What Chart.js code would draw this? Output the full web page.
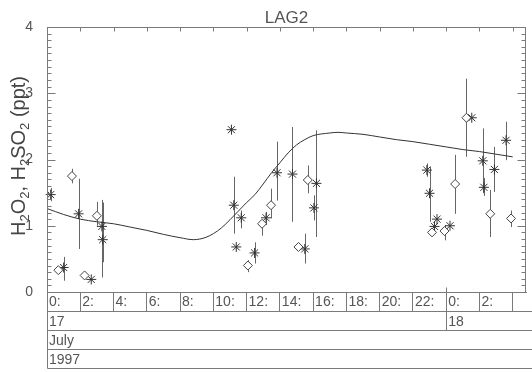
<!DOCTYPE html>
<html>
<head>
<meta charset="utf-8">
<script src="https://cdn.jsdelivr.net/npm/chart.js@4.4.1/dist/chart.umd.min.js"></script>
<style>
    html, body { margin: 0; padding: 0; background: #fff; }
    #wrap { width: 532px; height: 372px; }
</style>
</head>
<body>
<div id="wrap"><canvas id="lag2Chart" width="532" height="372"></canvas></div>
<script>
// Time axis: hours since 00:00, 17 July 1997
const starHours  = [0.22, 1.0, 1.9, 2.66, 3.3, 3.35, 11.09, 11.23, 11.38, 11.68, 12.48, 13.17, 13.83, 14.76,
                    15.5, 16.05, 16.2, 22.84, 23.0, 23.3, 23.45, 24.23, 25.54, 26.2, 26.27, 26.9, 27.6];
const starValues = [1.47, 0.37, 1.18, 0.19, 0.99, 0.79, 2.45, 1.31, 0.68, 1.12, 0.59, 1.12, 1.80, 1.78,
                    0.65, 1.27, 1.64, 1.84, 1.49, 0.99, 1.10, 1.00, 2.63, 1.98, 1.58, 1.85, 2.29];
const starLow    = [1.37, 0.17, 0.65, null, 0.22, 0.45, null, 0.88, null, 0.96, 0.43, 1.01, 1.38, 1.06,
                    0.43, 1.08, 0.83, 1.74, 1.06, null, null, null, null, 1.49, 1.45, 1.51, 1.99];
const starHigh   = [1.57, 0.53, 1.71, null, 1.39, 1.35, null, 1.74, null, 1.23, 0.75, 1.21, 2.27, 2.49,
                    0.88, 1.46, 2.44, 1.94, 1.89, null, null, null, null, 2.47, 1.72, 2.19, 2.57];

const diamondHours  = [0.68, 1.5, 2.26, 3.0, 12.08, 12.93, 13.47, 15.12, 15.68, 23.15, 23.9, 24.54, 25.22, 26.65, 27.9];
const diamondValues = [0.33, 1.75, 0.25, 1.15, 0.40, 1.03, 1.31, 0.68, 1.69, 0.90, 0.92, 1.63, 2.63, 1.18, 1.11];
const diamondLow    = [null, 1.64, null, 1.00, 0.30, 0.85, 1.11, null, 1.49, null, 0.78, 1.18, 2.04, 0.83, 0.98];
const diamondHigh   = [null, 1.86, null, 1.36, 0.48, 1.08, 1.56, null, 1.91, null, 1.01, 2.07, 3.22, 1.54, 1.23];

const lineHours  = [0, 1, 2, 3, 4, 5, 6, 7, 8, 8.8, 9.5, 10, 10.5, 11, 11.5, 12, 12.5, 13, 13.5, 14, 14.5,
                    15, 15.5, 16, 17, 17.5, 18, 19, 20, 21, 22, 23, 24, 25, 26, 27, 28];
const lineValues = [1.26, 1.17, 1.10, 1.06, 1.03, 0.98, 0.93, 0.87, 0.82, 0.79, 0.82, 0.88, 0.97, 1.09, 1.22,
                    1.35, 1.47, 1.63, 1.80, 1.95, 2.10, 2.22, 2.30, 2.36, 2.40, 2.41, 2.40, 2.38, 2.34, 2.30,
                    2.27, 2.23, 2.19, 2.15, 2.12, 2.08, 2.04];

const yTicks = [0, 1, 2, 3, 4];
const dayStarts = [0, 24];
const dayLabels = ['17', '18'];
const monthLabel = 'July';
const yearLabel = '1997';

const textColor = '#555';
const lineColor = '#7a7a7a';
const fontFamily = '"Liberation Sans", Arial, sans-serif';
const rowH = 19;

Chart.defaults.font.family = fontFamily;

function toPoints(xs, ys) {
    return xs.map((x, i) => ({ x: x, y: ys[i] }));
}

// vertical error bars, drawn below the symbols
const errorBars = {
    id: 'errorBars',
    beforeDatasetsDraw(chart) {
        const ctx = chart.ctx;
        const xs = chart.scales.x, ys = chart.scales.y;
        const sets = [[starHours, starLow, starHigh], [diamondHours, diamondLow, diamondHigh]];
        ctx.save();
        ctx.strokeStyle = '#666';
        ctx.lineWidth = 1;
        sets.forEach(([hrs, lo, hi]) => {
            hrs.forEach((h, i) => {
                if (lo[i] == null) return;
                const px = Math.round(xs.getPixelForValue(h)) + 0.5;
                ctx.beginPath();
                ctx.moveTo(px, ys.getPixelForValue(lo[i]));
                ctx.lineTo(px, ys.getPixelForValue(hi[i]));
                ctx.stroke();
            });
        });
        ctx.restore();
    }
};

function drawSubText(ctx, parts, big, small) {
    let w = 0;
    parts.forEach(p => {
        ctx.font = (p[1] ? small : big) + 'px ' + fontFamily;
        w += ctx.measureText(p[0]).width;
    });
    let x = -w / 2;
    parts.forEach(p => {
        ctx.font = (p[1] ? small : big) + 'px ' + fontFamily;
        ctx.fillText(p[0], x, p[1] ? 4 : 0);
        x += ctx.measureText(p[0]).width;
    });
}

// frame, minor ticks, date rows, title and y label
const frame = {
    id: 'frame',
    afterDraw(chart) {
        const ctx = chart.ctx;
        const { left, right, top, bottom } = chart.chartArea;
        const xs = chart.scales.x, ys = chart.scales.y;
        const L = Math.round(left) + 0.5, R = Math.round(right) - 0.5;
        const T = Math.round(top) + 0.5, B = Math.round(bottom) + 0.5;
        ctx.save();
        ctx.strokeStyle = lineColor;
        ctx.lineWidth = 1;
        ctx.strokeRect(L, T, R - L, B - T);

        // y ticks, 10 minor per unit, both sides, pointing in
        ctx.beginPath();
        for (let k = 0; k <= 40; k++) {
            const py = Math.round(ys.getPixelForValue(k / 10)) + 0.5;
            const len = k % 10 === 0 ? 8 : 4;
            ctx.moveTo(L, py); ctx.lineTo(L + len, py);
            ctx.moveTo(R, py); ctx.lineTo(R - len, py);
        }
        // top ticks
        xs.ticks.forEach(t => {
            const px = Math.round(xs.getPixelForValue(t.value)) + 0.5;
            ctx.moveTo(px, T); ctx.lineTo(px, T + 4);
        });
        // date rows
        for (let r = 1; r <= 4; r++) {
            const py = B + r * rowH;
            ctx.moveTo(L, py); ctx.lineTo(chart.width, py);
        }
        ctx.moveTo(L, B); ctx.lineTo(L, B + 4 * rowH);
        dayStarts.forEach(d => {
            if (d === xs.min) return;
            const px = Math.round(xs.getPixelForValue(d)) + 0.5;
            ctx.moveTo(px, B - 5); ctx.lineTo(px, B + 2 * rowH);
        });
        ctx.stroke();

        ctx.fillStyle = textColor;
        ctx.font = '14px ' + fontFamily;
        ctx.textAlign = 'left';
        ctx.textBaseline = 'middle';
        dayStarts.forEach((d, i) => {
            ctx.fillText(dayLabels[i], xs.getPixelForValue(d) + 2, B + rowH * 1.5 + 1);
        });
        ctx.fillText(monthLabel, L + 1.5, B + rowH * 2.5 + 1);
        ctx.fillText(yearLabel, L + 1.5, B + rowH * 3.5 + 1);

        // title
        ctx.font = '17px ' + fontFamily;
        ctx.textAlign = 'center';
        ctx.textBaseline = 'alphabetic';
        ctx.fillText('LAG2', (left + right) / 2, 23);

        // y axis label with subscripts
        ctx.save();
        ctx.translate(25, 156);
        ctx.rotate(-Math.PI / 2);
        ctx.textAlign = 'left';
        ctx.fillStyle = '#444';
        drawSubText(ctx, [['H', 0], ['2', 1], ['O', 0], ['2', 1], [', H', 0], ['2', 1], ['SO', 0], ['2', 1], [' (ppt)', 0]], 20, 13);
        ctx.restore();
        ctx.restore();
    }
};

new Chart(document.getElementById('lag2Chart'), {
    data: {
        datasets: [
            {
                type: 'line',
                data: toPoints(lineHours, lineValues),
                borderColor: '#333',
                borderWidth: 1,
                pointRadius: 0,
                cubicInterpolationMode: 'monotone',
                order: 3
            },
            {
                type: 'scatter',
                data: toPoints(starHours, starValues),
                pointStyle: 'star',
                pointRadius: 5,
                borderColor: '#333',
                borderWidth: 1,
                clip: false,
                order: 2
            },
            {
                type: 'scatter',
                data: toPoints(diamondHours, diamondValues),
                pointStyle: 'rectRot',
                pointRadius: 4.5,
                backgroundColor: '#fff',
                borderColor: '#444',
                borderWidth: 1,
                clip: false,
                order: 1
            }
        ]
    },
    options: {
        responsive: false,
        animation: false,
        devicePixelRatio: 1,
        layout: { padding: { top: 27, right: 1, left: 0, bottom: 0 } },
        plugins: {
            legend: { display: false },
            tooltip: { enabled: false }
        },
        scales: {
            x: {
                type: 'linear',
                min: 0,
                max: 28.8,
                afterFit: s => { s.height = 80; },
                border: { display: true, color: lineColor },
                grid: { drawOnChartArea: false, drawTicks: true, tickLength: rowH, color: lineColor },
                ticks: {
                    stepSize: 2,
                    includeBounds: false,
                    autoSkip: false,
                    maxRotation: 0,
                    align: 'start',
                    labelOffset: 2,
                    padding: -17,
                    color: textColor,
                    font: { size: 14 },
                    callback: v => (v > 27 ? '' : (v % 24) + ':')
                }
            },
            y: {
                min: 0,
                max: 4,
                afterFit: s => { s.width = 47; },
                afterBuildTicks: s => { s.ticks = yTicks.map(v => ({ value: v })); },
                border: { display: false },
                grid: { display: false },
                ticks: { padding: 6, color: textColor, font: { size: 14 } }
            }
        }
    },
    plugins: [errorBars, frame]
});
</script>
</body>
</html>
